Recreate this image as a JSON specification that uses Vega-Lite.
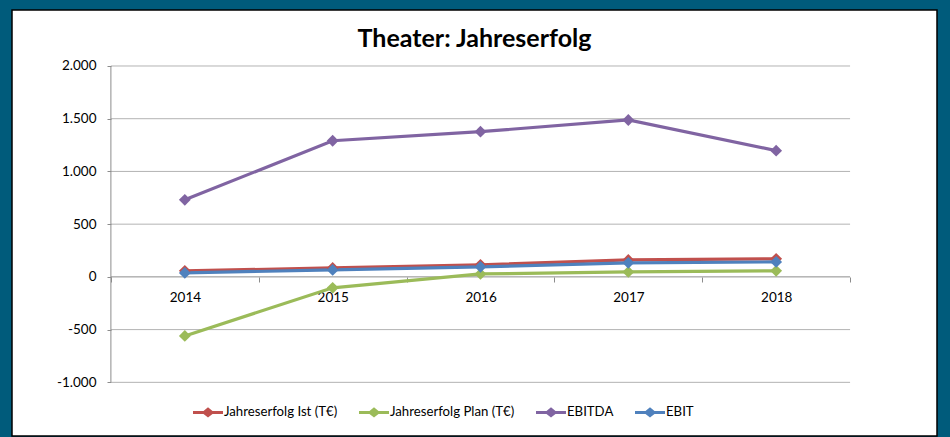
{
  "$schema": "https://vega.github.io/schema/vega-lite/v6.json",
  "width": 950,
  "height": 437,
  "autosize": {"type": "fit", "contains": "padding"},
  "padding": {"left": 12, "top": 10, "right": 13, "bottom": 1},
  "background": "#005B7B",
  "title": {
    "text": "Theater: Jahreserfolg",
    "font": "Lato",
    "fontSize": 25,
    "fontWeight": "bold",
    "color": "black",
    "anchor": "middle",
    "baseline": "alphabetic",
    "offset": -62
  },
  "config": {
    "view": {"fill": "white", "stroke": "black", "strokeWidth": 1.5},
    "font": "Lato"
  },
  "layer": [
    {
      "data": {"values": [{"v": -1000}, {"v": -500}, {"v": 0}, {"v": 500}, {"v": 1000}, {"v": 1500}, {"v": 2000}]},
      "mark": {"type": "rule", "strokeWidth": 1},
      "encoding": {
        "y": {
          "field": "v",
          "type": "quantitative",
          "scale": {"domain": [-1509, 2531], "nice": false, "zero": false},
          "axis": {
            "orient": "left",
            "offset": -99,
            "title": null,
            "values": [-1000, -500, 0, 500, 1000, 1500, 2000],
            "labelExpr": "replace(replace(format(datum.value, ','), ',', '.'), '−', '-')",
            "labelFont": "Lato",
            "labelFontSize": 13.5,
            "labelColor": "black",
            "labelPadding": 11,
            "domain": false,
            "grid": false,
            "ticks": true,
            "tickSize": 4,
            "tickColor": "#8c8c8c"
          }
        },
        "x": {
          "datum": 2013.5,
          "type": "quantitative",
          "scale": {"domain": [2012.831, 2019.088], "nice": false, "zero": false},
          "axis": {
            "orient": "bottom",
            "offset": -159,
            "title": null,
            "values": [2013.5, 2014.5, 2015.5, 2016.5, 2017.5, 2018.5],
            "labelExpr": "datum.value < 2018.4 ? toString(datum.value + 0.5) : ''",
            "labelOffset": 74,
            "labelOverlap": false,
            "labelFlush": false,
            "labelBound": false,
            "labelFont": "Lato",
            "labelFontSize": 13.5,
            "labelColor": "black",
            "labelPadding": 8,
            "domain": false,
            "grid": false,
            "ticks": true,
            "tickSize": 5,
            "tickColor": "#8c8c8c"
          }
        },
        "x2": {"datum": 2018.5},
        "color": {"condition": {"test": "datum.v === 0", "value": "#8c8c8c"}, "value": "#b3b3b3"}
      }
    },
    {
      "data": {"values": [{"v": 0}]},
      "mark": {"type": "rule", "strokeWidth": 1, "color": "#8c8c8c"},
      "encoding": {
        "x": {"datum": 2013.5, "type": "quantitative", "scale": {"domain": [2012.831, 2019.088], "nice": false, "zero": false}},
        "y": {"datum": -1000, "type": "quantitative", "scale": {"domain": [-1509, 2531], "nice": false, "zero": false}},
        "y2": {"datum": 2000}
      }
    },
    {
      "data": {
        "values": [
          {"year": 2014, "series": "Jahreserfolg Ist (T€)", "value": 57},
          {"year": 2015, "series": "Jahreserfolg Ist (T€)", "value": 85},
          {"year": 2016, "series": "Jahreserfolg Ist (T€)", "value": 114},
          {"year": 2017, "series": "Jahreserfolg Ist (T€)", "value": 161},
          {"year": 2018, "series": "Jahreserfolg Ist (T€)", "value": 171},
          {"year": 2014, "series": "Jahreserfolg Plan (T€)", "value": -560},
          {"year": 2015, "series": "Jahreserfolg Plan (T€)", "value": -104},
          {"year": 2016, "series": "Jahreserfolg Plan (T€)", "value": 28},
          {"year": 2017, "series": "Jahreserfolg Plan (T€)", "value": 47},
          {"year": 2018, "series": "Jahreserfolg Plan (T€)", "value": 57},
          {"year": 2014, "series": "EBITDA", "value": 731},
          {"year": 2015, "series": "EBITDA", "value": 1291},
          {"year": 2016, "series": "EBITDA", "value": 1377},
          {"year": 2017, "series": "EBITDA", "value": 1488},
          {"year": 2018, "series": "EBITDA", "value": 1197},
          {"year": 2014, "series": "EBIT", "value": 38},
          {"year": 2015, "series": "EBIT", "value": 66},
          {"year": 2016, "series": "EBIT", "value": 95},
          {"year": 2017, "series": "EBIT", "value": 133},
          {"year": 2018, "series": "EBIT", "value": 142}
        ]
      },
      "encoding": {
        "x": {
          "field": "year",
          "type": "quantitative",
          "scale": {"domain": [2012.831, 2019.088], "nice": false, "zero": false}
        },
        "y": {
          "field": "value",
          "type": "quantitative",
          "scale": {"domain": [-1509, 2531], "nice": false, "zero": false}
        },
        "color": {
          "field": "series",
          "type": "nominal",
          "scale": {
            "domain": ["Jahreserfolg Ist (T€)", "Jahreserfolg Plan (T€)", "EBITDA", "EBIT"],
            "range": ["#C0504D", "#9BBB59", "#8064A2", "#4F81BD"]
          },
          "legend": {
            "orient": "none",
            "direction": "horizontal",
            "legendX": 181,
            "legendY": 387,
            "title": null,
            "padding": 0,
            "symbolType": "M-1,-0.1L-0.3,-0.1L0,-0.34L0.3,-0.1L1,-0.1L1,0.1L0.3,0.1L0,0.34L-0.3,0.1L-1,0.1Z",
            "symbolSize": 900,
            "symbolStrokeWidth": 0,
            "labelFont": "Lato",
            "labelFontSize": 13.2,
            "labelColor": "black",
            "labelOffset": 1,
            "columnPadding": 21,
            "encode": {
              "symbols": {"update": {"fill": {"scale": "color", "field": "value"}, "stroke": {"value": "transparent"}, "opacity": {"value": 1}}}
            }
          }
        },
        "order": {"field": "year"}
      },
      "layer": [
        {"mark": {"type": "line", "strokeWidth": 3.2}},
        {"mark": {"type": "point", "shape": "diamond", "filled": true, "size": 140, "opacity": 1}}
      ]
    }
  ]
}
